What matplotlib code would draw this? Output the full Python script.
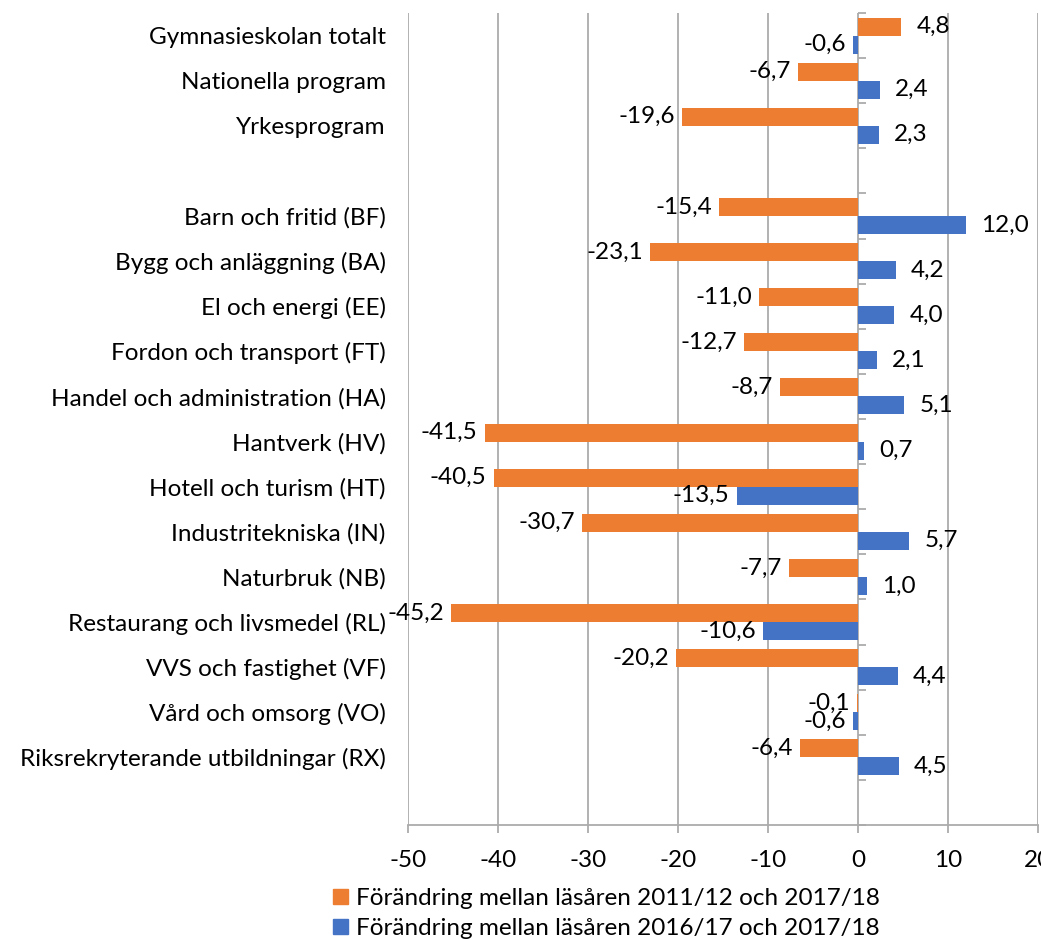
import numpy as np
import matplotlib
matplotlib.use("Agg")
import matplotlib.pyplot as plt
from matplotlib.patches import Patch

plt.rcParams['font.family'] = ['Lato', 'DejaVu Sans']

categories = [
    "Gymnasieskolan totalt", "Nationella program", "Yrkesprogram", "",
    "Barn och fritid (BF)", "Bygg och anläggning (BA)", "El och energi (EE)",
    "Fordon och transport (FT)", "Handel och administration (HA)", "Hantverk (HV)",
    "Hotell och turism (HT)", "Industritekniska (IN)", "Naturbruk (NB)",
    "Restaurang och livsmedel (RL)", "VVS och fastighet (VF)", "Vård och omsorg (VO)",
    "Riksrekryterande utbildningar (RX)", "",
]
change_2011 = [4.8, -6.7, -19.6, np.nan, -15.4, -23.1, -11.0, -12.7, -8.7, -41.5,
               -40.5, -30.7, -7.7, -45.2, -20.2, -0.1, -6.4, np.nan]
change_2016 = [-0.6, 2.4, 2.3, np.nan, 12.0, 4.2, 4.0, 2.1, 5.1, 0.7,
               -13.5, 5.7, 1.0, -10.6, 4.4, -0.6, 4.5, np.nan]
series_names = ["Förändring mellan läsåren 2011/12 och 2017/18",
                "Förändring mellan läsåren 2016/17 och 2017/18"]
colors = ["#ED7D31", "#4472C4"]
xticks = [-50, -40, -30, -20, -10, 0, 10, 20]

FS = 17.5
W, H = 1041, 939
fig = plt.figure(figsize=(W / 100, H / 100), dpi=100)
ax = fig.add_axes([408 / W, (H - 825) / H, (1038 - 408) / W, (825 - 13) / H])

n = len(categories)
y = np.arange(n)
bh = 0.4
ax.barh(y - bh / 2, change_2011, height=bh, color=colors[0], zorder=3)
ax.barh(y + bh / 2, change_2016, height=bh, color=colors[1], zorder=3)

def fmt(v):
    return f"{v:.1f}".replace(".", ",")

for vals, off in ((change_2011, -bh / 2), (change_2016, bh / 2)):
    for i, v in enumerate(vals):
        if np.isnan(v):
            continue
        if v >= 0:
            ax.annotate(fmt(v), (v, i + off), xytext=(11, 0), textcoords="offset points",
                        ha="left", va="center", fontsize=FS, zorder=5)
        else:
            ax.annotate(fmt(v), (v, i + off), xytext=(-5, 0), textcoords="offset points",
                        ha="right", va="center", fontsize=FS, zorder=5)

ax.set_xlim(-50, 20)
ax.set_ylim(n - 0.5, -0.5)
ax.set_xticks(xticks)
ax.set_xticklabels([str(t) for t in xticks], fontsize=FS)
ax.xaxis.grid(True, color="#ababab", linewidth=1.3, zorder=0)
ax.tick_params(axis="x", length=6, color="#ababab", pad=12, width=1.3)

ax.set_yticks(y)
ax.set_yticklabels(categories, fontsize=FS)
ax.tick_params(axis="y", length=0, pad=16)

for s in ("top", "right", "left"):
    ax.spines[s].set_visible(False)
ax.spines["bottom"].set_color("#ababab")
ax.spines["bottom"].set_linewidth(1.3)

# category axis at x = 0
sec = ax.secondary_yaxis(50 / 70)
sec.set_yticks(np.arange(n + 1) - 0.5)
sec.set_yticklabels([""] * (n + 1))
sec.tick_params(axis="y", length=6, color="#ababab", width=1.3, direction="out")
sec.spines["left"].set_color("#ababab")
sec.spines["left"].set_linewidth(1.3)
for s in ("top", "right", "bottom"):
    sec.spines[s].set_visible(False)

handles = [Patch(color=c) for c in colors]
fig.legend(handles, series_names, loc="upper left", bbox_to_anchor=(333 / W, 1 - 888 / H),
           frameon=False, fontsize=FS, handlelength=0.6, handleheight=0.6,
           handletextpad=0.35, labelspacing=0.38, borderpad=0, borderaxespad=0)

fig.savefig("out.png", dpi=100)
